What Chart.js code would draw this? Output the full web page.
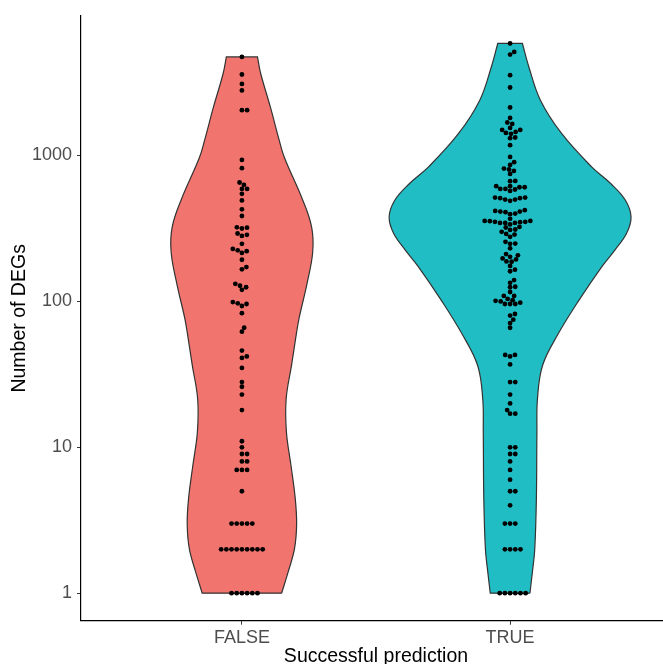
<!DOCTYPE html>
<html>
<head>
<meta charset="utf-8">
<script src="https://cdn.jsdelivr.net/npm/chart.js@4"></script>
<style>
  html, body { margin: 0; padding: 0; background: #fff; overflow: hidden; }
  canvas { display: block; }
</style>
</head>
<body>
<canvas id="chart" width="675" height="672"></canvas>
<script>
// categories on the x axis
const categories = ["FALSE", "TRUE"];
const yTicks = [1, 10, 100, 1000];

// number of DEGs per sample
const falseValues = [
    4740, 3590, 3097, 2793, 2045, 2045, 933, 819, 653, 629, 590, 590, 546, 492,
    428, 385, 322, 316, 320, 292, 286, 281, 248, 229, 224, 221, 215, 193, 172,
    166, 132, 128, 125, 120, 99, 97, 96, 93, 83, 66, 62, 46, 42, 41, 35, 28, 26,
    23, 18, 11, 10, 9, 9, 8, 8, 7, 7, 7, 5, 3, 3, 3, 3, 3, 2, 2, 2, 2, 2, 2, 2,
    2, 2, 1, 1, 1, 1, 1, 1,
];
const trueValues = [
    5860, 5130, 4920, 3552, 2925, 2133, 1810, 1684, 1647, 1546, 1498, 1498, 1451,
    1428, 1407, 1329, 1314, 1177, 978, 900, 862, 814, 802, 784, 748, 670, 667,
    616, 616, 606, 606, 590, 590, 585, 572, 515, 515, 510, 510, 499, 499, 489,
    422, 417, 413, 413, 409, 400, 396, 368, 356, 356, 355, 351, 351, 349, 345,
    345, 345, 337, 324, 321, 311, 309, 300, 290, 287, 277, 256, 249, 248, 231,
    211, 207, 202, 197, 194, 188, 187, 175, 165, 161, 140, 134, 126, 125, 116,
    109, 109, 104, 102, 101, 100, 98, 96, 96, 96, 82, 80, 75, 71, 66, 43, 43,
    42, 37, 28, 28, 23, 20, 18, 17, 17, 10, 10, 9, 9, 8, 7, 6, 5, 5, 4, 3, 3, 3,
    2, 2, 2, 2, 1, 1, 1, 1, 1, 1,
];

// violin outline: y level and half width (in category units), bottom to top
const falseViolinY = [1, 1.39, 2.01, 2.97, 4.43, 7.5, 12.7, 21.5, 36.4, 61.5, 78,
    133, 218, 323, 494, 973, 1273, 2153, 3648, 4740];
const falseViolinWidth = [0.148, 0.172, 0.196, 0.204, 0.199, 0.183, 0.166, 0.165,
    0.185, 0.204, 0.214, 0.243, 0.264, 0.26, 0.227, 0.158, 0.139, 0.106,
    0.07, 0.058];
const trueViolinY = [1, 1.39, 2.01, 4.43, 12.7, 21.5, 36.4, 60.2, 102, 172, 224,
    292, 379, 494, 643, 836, 1416, 2393, 4045, 5860];
const trueViolinWidth = [0.074, 0.083, 0.092, 0.098, 0.1, 0.102, 0.121, 0.18,
    0.257, 0.341, 0.39, 0.434, 0.451, 0.43, 0.375, 0.304, 0.192, 0.113, 0.07,
    0.046];

const tickFont = { family: "'Liberation Sans', Arial, sans-serif", size: 18 };
const titleFont = { family: "'Liberation Sans', Arial, sans-serif", size: 19.5 };

function violinOutline(center, ys, widths) {
    const right = ys.map((y, i) => ({ x: center + widths[i], y: y }));
    const left = ys.map((y, i) => ({ x: center - widths[i], y: y })).reverse();
    const n = right.length;
    // doubled corner points keep the flat top and bottom sharp
    return [
        ...right,
        right[n - 1],
        left[0],
        ...left,
        left[n - 1],
        right[0],
    ];
}

function violinDataset(center, ys, widths, color) {
    return {
        data: violinOutline(center, ys, widths),
        showLine: true,
        fill: "shape",
        backgroundColor: color,
        borderColor: "#333333",
        borderWidth: 1.2,
        tension: 0.38,
        pointRadius: 0,
        order: 2,
    };
}

function dotDataset() {
    return {
        data: [],
        pointRadius: 2.4,
        pointBackgroundColor: "#000",
        pointBorderWidth: 0,
        order: 0,
    };
}

const ctx = document.getElementById("chart").getContext("2d");
const chart = new Chart(ctx, {
    type: "scatter",
    data: {
        datasets: [
            dotDataset(),
            dotDataset(),
            violinDataset(1, falseViolinY, falseViolinWidth, "#F1746E"),
            violinDataset(2, trueViolinY, trueViolinWidth, "#20BEC4"),
        ],
    },
    options: {
        responsive: false,
        animation: false,
        devicePixelRatio: 1,
        layout: { padding: { top: 16, right: 3, left: 0, bottom: 0 } },
        plugins: { legend: { display: false }, tooltip: { enabled: false } },
        scales: {
            x: {
                type: "linear",
                min: 0.4,
                max: 2.6,
                bounds: "data",
                afterBuildTicks: (s) => {
                    s.ticks = categories.map((c, i) => ({ value: i + 1 }));
                },
                afterFit: (s) => {
                    s.height = 51.3;
                },
                ticks: {
                    callback: (v, i) => categories[i],
                    color: "#4D4D4D",
                    font: tickFont,
                    padding: 3,
                    maxRotation: 0,
                },
                grid: { drawOnChartArea: false, tickLength: 4, tickColor: "#333333" },
                border: { color: "#000", width: 1.2 },
                title: {
                    display: true,
                    text: "Successful prediction",
                    color: "#000",
                    font: titleFont,
                    padding: { top: 0, bottom: 4 },
                },
            },
            y: {
                type: "logarithmic",
                min: 0.648,
                max: 9040,
                bounds: "data",
                afterBuildTicks: (s) => {
                    s.ticks = yTicks.map((v) => ({ value: v }));
                },
                afterFit: (s) => {
                    s.width = 81;
                },
                ticks: {
                    callback: (v) => String(v),
                    color: "#4D4D4D",
                    font: tickFont,
                    padding: 5,
                },
                grid: { drawOnChartArea: false, tickLength: 4, tickColor: "#333333" },
                border: { color: "#000", width: 1.2 },
                title: {
                    display: true,
                    text: "Number of DEGs",
                    color: "#000",
                    font: titleFont,
                    padding: { top: 8, bottom: 0 },
                },
            },
        },
    },
});

// beeswarm placement of the dots, done in pixels
function swarm(values, center) {
    const xs = chart.scales.x;
    const ys = chart.scales.y;
    const pxPerUnit = xs.getPixelForValue(2) - xs.getPixelForValue(1);
    const dX = 5.2;
    const dY = 4.4;
    const sorted = values.slice().sort((a, b) => a - b);
    const placed = [];
    sorted.forEach((v) => {
        const py = ys.getPixelForValue(v);
        const cands = [0];
        placed.forEach((p) => {
            const t = (py - p.py) / dY;
            if (Math.abs(t) < 1) {
                const off = dX * Math.sqrt(1 - t * t);
                cands.push(p.px + off, p.px - off);
            }
        });
        const ok = cands.filter((c) =>
            placed.every((p) => {
                const a = (c - p.px) / dX;
                const b = (py - p.py) / dY;
                return a * a + b * b >= 0.999;
            }),
        );
        let best = ok[0];
        ok.forEach((c) => {
            if (Math.abs(c) < Math.abs(best) - 1e-6) best = c;
        });
        placed.push({ px: best, py: py, v: v });
    });
    return placed.map((p) => ({ x: center + p.px / pxPerUnit, y: p.v }));
}

chart.data.datasets[0].data = swarm(falseValues, 1);
chart.data.datasets[1].data = swarm(trueValues, 2);
chart.update("none");
</script>
</body>
</html>
